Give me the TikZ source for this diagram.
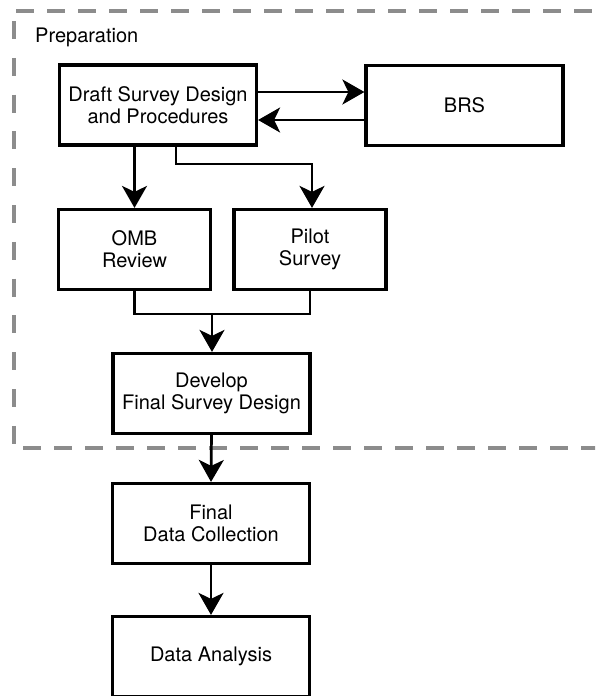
\documentclass[tikz,border=0pt]{standalone}
\usepackage{fontspec}
\setmainfont{TeX Gyre Heros}
\usetikzlibrary{arrows.meta}
\begin{document}
\begin{tikzpicture}[x=1pt,y=-1pt,
  txt/.style={font=\fontsize{20}{22}\selectfont},
  box/.style={draw=black,line width=3.2pt,rectangle,minimum width=197pt,minimum height=80pt,align=center,inner sep=0pt,txt},
  smallbox/.style={box,minimum width=152pt},
  conn/.style={line width=2.7pt,-{Stealth[length=22pt,width=25pt,inset=6pt]}},
  plain/.style={line width=2.7pt},
  prep/.style={draw=black!45,line width=4pt,dash pattern=on 18pt off 13pt},
  prepv/.style={draw=black!45,line width=4pt,dash pattern=on 18pt off 18.8pt}]
\useasboundingbox (0,0) rectangle (595,696);
\clip (0,0) rectangle (595,696);
% dashed region (open to the right)
\coordinate (tl) at (16,11);
\coordinate (tr) at (640,11);
\coordinate (lt) at (14,21);
\coordinate (lb) at (14,446);
\coordinate (bl) at (23,448);
\coordinate (br) at (640,448);
\draw[prep] (tl) -- (tr);
\draw[prepv] (lt) -- (lb);
\draw[prep] (bl) -- (br);
\node[anchor=base west,inner sep=0pt,txt] (lbl) at (35,42) {Preparation};
% nodes
\node[box] (draft) at (158,105) {Draft Survey Design\\and Procedures};
\node[box] (brs) at (464.5,105.5) {BRS};
\node[smallbox] (omb) at (134.5,249.5) {OMB\\Review};
\node[smallbox] (pilot) at (310,249.5) {Pilot\\Survey};
\node[box] (dev) at (211.5,393.5) {Develop\\Final Survey Design};
\node[box] (fdc) at (211,523.5) {Final\\Data Collection};
\node[box] (da) at (211,656.5) {Data Analysis};
% helper coordinates
\coordinate (d2b) at (0,92);
\coordinate (b2d) at (0,120);
\coordinate (brx) at (176,0);
\coordinate (bry) at (0,164);
\coordinate (plx) at (312,0);
\coordinate (mgy) at (0,314);
\coordinate (mgx) at (212,0);
% connectors
\draw[conn] (draft.east |- d2b) -- (brs.west |- d2b);
\draw[conn] (brs.west |- b2d) -- (draft.east |- b2d);
\draw[conn] (omb.north |- draft.south) -- (omb.north);
\draw[conn] (brx |- draft.south) -- (brx |- bry) -- (plx |- bry) -- (plx |- pilot.north);
\draw[plain] (omb.south) -- (omb.south |- mgy) -- (pilot.south |- mgy) -- (pilot.south);
\draw[conn] (mgx |- mgy) -- (mgx |- dev.north);
\draw[conn] (dev.south) -- (fdc.north);
\draw[conn] (fdc.south) -- (da.north);
\end{tikzpicture}
\end{document}
